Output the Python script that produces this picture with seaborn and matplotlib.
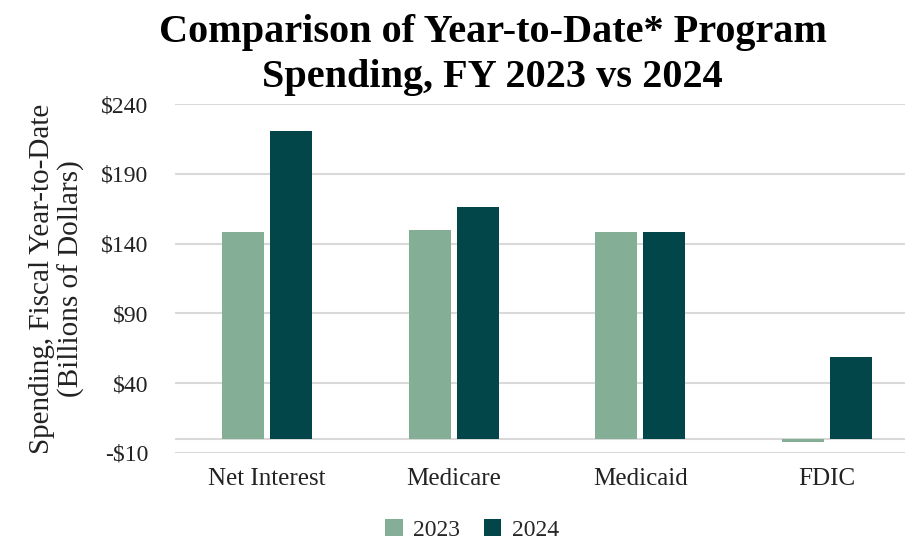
import matplotlib
matplotlib.use("Agg")
import matplotlib.pyplot as plt
import seaborn as sns
import pandas as pd

categories = ["Net Interest", "Medicare", "Medicaid", "FDIC"]
years = ["2023", "2024"]
values_2023 = [148, 150, 148, -2]
values_2024 = [221, 166, 148, 59]
yticks = [-10, 40, 90, 140, 190, 240]
ytick_labels = ["-$10", "$40", "$90", "$140", "$190", "$240"]

df = pd.DataFrame({
    "Program": categories * 2,
    "Year": [years[0]] * 4 + [years[1]] * 4,
    "Value": values_2023 + values_2024,
})

sns.set_theme(style="white")
plt.rcParams["font.family"] = ["Liberation Serif", "DejaVu Serif"]
plt.rcParams["mathtext.default"] = "regular"

fig = plt.figure(figsize=(9.09, 5.44), dpi=100)
ax = fig.add_axes([175 / 909, 1 - 453 / 544, 730 / 909, 349 / 544])

palette = {"2023": "#84AF96", "2024": "#03464A"}
sns.barplot(data=df, x="Program", y="Value", hue="Year", palette=palette,
            width=0.514, gap=0.125, saturation=1, ax=ax, legend=True,
            edgecolor="none")

ax.set_ylim(-10, 240)
ax.set_xlim(-0.493, 3.417)
ax.set_yticks(yticks)
ax.set_yticklabels([t.replace("$", r"\$") for t in ytick_labels])
for y in yticks + [0]:
    ax.axhline(y, color="#D9D9D9", lw=1.5, zorder=0)
ax.grid(False)
for s in ax.spines.values():
    s.set_visible(False)
ax.tick_params(axis="y", length=0, pad=19, labelsize=17, colors="#222222")
ax.tick_params(axis="x", length=0, pad=11, labelsize=18, colors="#222222")
ax.set_xlabel("")
ax.set_ylabel("Spending, Fiscal Year-to-Date\n(Billions of Dollars)",
              fontsize=21, color="#222222", labelpad=12, linespacing=1.12)

fig.suptitle("Comparison of Year-to-Date* Program\nSpending, FY 2023 vs 2024",
             x=0.542, y=0.975, fontsize=29, fontweight="bold", linespacing=1.3,
             color="black")

leg = ax.legend(loc="center", bbox_to_anchor=(472 / 909, 1 - 530 / 544),
                bbox_transform=fig.transFigure, ncol=2, frameon=False,
                fontsize=17, handlelength=0.75, handleheight=0.75,
                columnspacing=1.0, handletextpad=0.45)

fig.savefig("out.png", dpi=100)
